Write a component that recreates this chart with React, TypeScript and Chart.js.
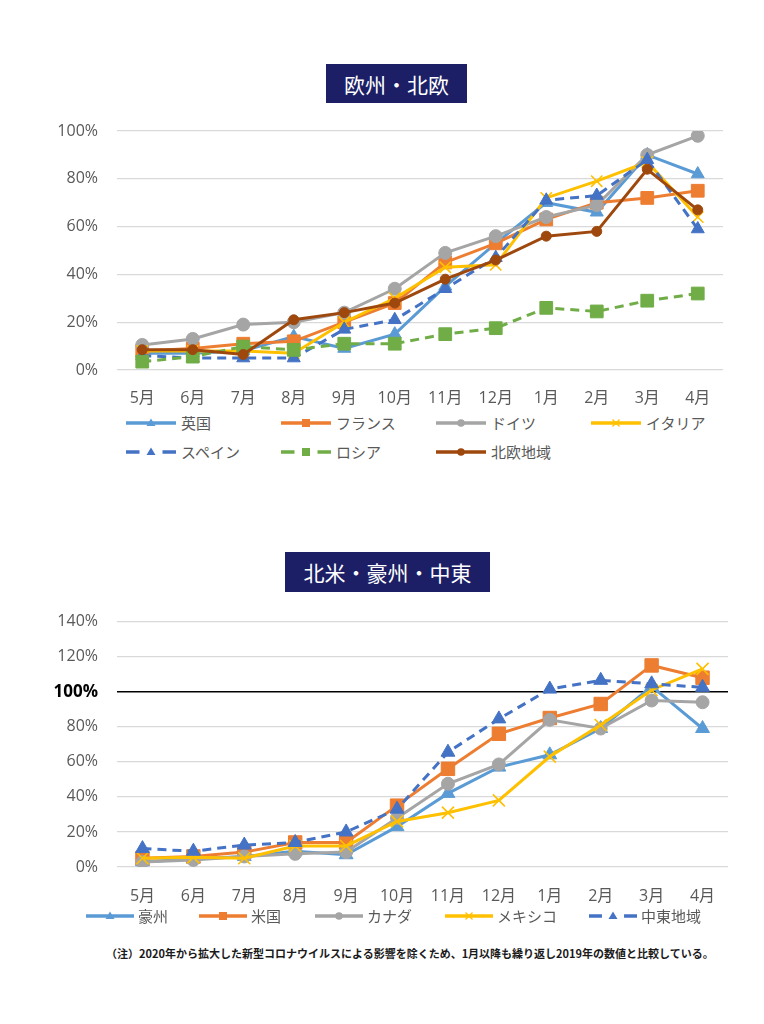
import React, { useEffect, useRef } from 'react';
import { Chart, registerables } from 'chart.js';

Chart.register(...registerables);

// ---------- data ----------
const months = ['5月', '6月', '7月', '8月', '9月', '10月', '11月', '12月', '1月', '2月', '3月', '4月'];

const euLabels = ['英国', 'フランス', 'ドイツ', 'イタリア', 'スペイン', 'ロシア', '北欧地域'];
const ukValues = [7, 7, 8, 14, 9, 15, 35, 53, 70, 66, 90, 82];
const franceValues = [8, 9, 11, 12, 20, 28, 45, 53, 63, 70, 72, 75];
const germanyValues = [10.5, 13, 19, 20, 24, 34, 49, 56, 64, 69, 90, 98];
const italyValues = [8, 8, 8, 7, 20, 30, 43, 44, 72, 79, 87, 64];
const spainValues = [6, 5, 5, 5, 17, 21, 34, 47, 71, 73, 88, 59];
const russiaValues = [3.5, 5.6, 9.8, 8.4, 11, 11, 15, 17.5, 26, 24.5, 29, 32];
const nordicValues = [8.5, 8.5, 6.5, 21, 24, 28, 38, 46, 56, 58, 84, 67];

const naLabels = ['豪州', '米国', 'カナダ', 'メキシコ', '中東地域'];
const australiaValues = [3, 4.5, 6, 9, 7, 23, 42, 57, 64, 79, 103, 79];
const usValues = [5, 6, 8.5, 14, 14, 35, 56, 76, 85, 93, 115, 108];
const canadaValues = [2.8, 4, 6, 7.5, 8.5, 28, 47.5, 58.5, 84, 79, 95, 94];
const mexicoValues = [5, 5.5, 5, 12, 12, 26, 31, 38, 63, 81, 101, 113];
const middleEastValues = [10.5, 9, 12.5, 14, 20, 33, 65.5, 84.5, 101.5, 106.5, 104.5, 102.5];

const euTicks = [0, 20, 40, 60, 80, 100];
const naTicks = [0, 20, 40, 60, 80, 100, 120, 140];

const euTitle = '欧州・北欧';
const naTitle = '北米・豪州・中東';
const footnote = '（注）2020年から拡大した新型コロナウイルスによる影響を除くため、1月以降も繰り返し2019年の数値と比較している。';

// ---------- styles ----------
type Style = { color: string; dashed: boolean; shape: string; radius: number };
const BLUE = '#5B9BD5';
const ORANGE = '#ED7D31';
const GREY = '#A5A5A5';
const YELLOW = '#FFC000';
const DBLUE = '#4472C4';
const GREEN = '#70AD47';
const BROWN = '#9E480E';

const euStyles: Style[] = [
  { color: BLUE, dashed: false, shape: 'triangle', radius: 7.5 },
  { color: ORANGE, dashed: false, shape: 'rect', radius: 9 },
  { color: GREY, dashed: false, shape: 'circle', radius: 6.5 },
  { color: YELLOW, dashed: false, shape: 'crossRot', radius: 8 },
  { color: DBLUE, dashed: true, shape: 'triangle', radius: 7.5 },
  { color: GREEN, dashed: true, shape: 'rect', radius: 9 },
  { color: BROWN, dashed: false, shape: 'circle', radius: 5 },
];
const naStyles: Style[] = [
  { color: BLUE, dashed: false, shape: 'triangle', radius: 8 },
  { color: ORANGE, dashed: false, shape: 'rect', radius: 9.5 },
  { color: GREY, dashed: false, shape: 'circle', radius: 6.5 },
  { color: YELLOW, dashed: false, shape: 'crossRot', radius: 8.5 },
  { color: DBLUE, dashed: true, shape: 'triangle', radius: 8 },
];

const FONT = '"Open Sans", "Noto Sans CJK JP", sans-serif';
const JP = '"Noto Sans CJK JP", "Open Sans", sans-serif';
const TICK_COLOR = '#595959';

function buildDatasets(labels: string[], values: number[][], styles: Style[]) {
  const n = labels.length;
  return labels.map((label, i) => {
    const s = styles[i];
    return {
      label,
      data: values[i],
      borderColor: s.color,
      backgroundColor: s.color,
      borderWidth: 3,
      borderDash: s.dashed ? [9, 6] : [],
      tension: 0,
      pointStyle: s.shape,
      pointRadius: s.radius,
      pointBackgroundColor: s.color,
      pointBorderColor: s.color,
      pointBorderWidth: s.shape === 'crossRot' ? 1.6 : 1,
      order: n - i,
    };
  });
}

function makeConfig(
  datasets: any[],
  ticks: number[],
  padTop: number,
  padRight: number,
  xHeight: number,
  xPad: number,
  highlight100: boolean
): any {
  return {
    type: 'line',
    data: { labels: months, datasets },
    options: {
      animation: false,
      responsive: false,
      maintainAspectRatio: false,
      layout: { padding: { top: padTop, right: padRight, left: 0, bottom: 0 } },
      plugins: { legend: { display: false }, tooltip: { enabled: false } },
      scales: {
        x: {
          type: 'category',
          offset: true,
          grid: { display: false },
          border: { display: false },
          ticks: {
            padding: xPad,
            color: TICK_COLOR,
            font: { family: FONT, size: 16 },
            maxRotation: 0,
            autoSkip: false,
          },
          afterFit: (s: any) => {
            s.height = xHeight;
          },
        },
        y: {
          min: ticks[0],
          max: ticks[ticks.length - 1],
          afterBuildTicks: (s: any) => {
            s.ticks = ticks.map((v) => ({ value: v }));
          },
          border: { display: false },
          grid: {
            drawTicks: false,
            color: (ctx: any) =>
              highlight100 && ctx.tick && ctx.tick.value === 100 ? '#000000' : '#D9D9D9',
            lineWidth: (ctx: any) => (highlight100 && ctx.tick && ctx.tick.value === 100 ? 1.6 : 1.2),
          },
          ticks: {
            padding: 19,
            callback: (v: any) => v + '%',
            color: (ctx: any) =>
              highlight100 && ctx.tick && ctx.tick.value === 100 ? '#000000' : TICK_COLOR,
            font: (ctx: any) =>
              highlight100 && ctx.tick && ctx.tick.value === 100
                ? { family: FONT, size: 17, weight: 'bold' }
                : { family: FONT, size: 16 },
          },
          afterFit: (s: any) => {
            s.width = 117;
          },
        },
      },
    },
  };
}

function LineChart({ config, top, height }: { config: any; top: number; height: number }) {
  const ref = useRef<HTMLCanvasElement | null>(null);
  useEffect(() => {
    if (!ref.current) return;
    const chart = new Chart(ref.current, config);
    return () => chart.destroy();
  }, [config]);
  return (
    <canvas
      ref={ref}
      width={764}
      height={height}
      style={{ position: 'absolute', left: 0, top, width: 764, height }}
    />
  );
}

function Marker({ shape, color, cx, cy }: { shape: string; color: string; cx: number; cy: number }) {
  if (shape === 'triangle') {
    return <polygon points={`${cx},${cy - 4.5} ${cx + 4.5},${cy + 3} ${cx - 4.5},${cy + 3}`} fill={color} />;
  }
  if (shape === 'rect') {
    return <rect x={cx - 4} y={cy - 4} width={8} height={8} fill={color} />;
  }
  if (shape === 'circle') {
    return <circle cx={cx} cy={cy} r={3.8} fill={color} />;
  }
  return (
    <g stroke={color} strokeWidth={1.3}>
      <line x1={cx - 3.5} y1={cy - 3.5} x2={cx + 3.5} y2={cy + 3.5} />
      <line x1={cx - 3.5} y1={cy + 3.5} x2={cx + 3.5} y2={cy - 3.5} />
    </g>
  );
}

function LegendItem({
  label,
  style,
  x,
  y,
  lineW,
  textGap,
}: {
  label: string;
  style: Style;
  x: number;
  y: number;
  lineW: number;
  textGap: number;
}) {
  const h = 14;
  const c = lineW / 2;
  return (
    <div style={{ position: 'absolute', left: x, top: y - h / 2, height: h }}>
      <svg width={lineW} height={h} style={{ position: 'absolute', left: 0, top: 0 }}>
        {style.dashed ? (
          <g stroke={style.color} strokeWidth={3.5}>
            <line x1={0} y1={h / 2} x2={lineW * 0.27} y2={h / 2} />
            <line x1={lineW * 0.73} y1={h / 2} x2={lineW} y2={h / 2} />
          </g>
        ) : (
          <line x1={0} y1={h / 2} x2={lineW} y2={h / 2} stroke={style.color} strokeWidth={3.5} />
        )}
        <Marker shape={style.shape} color={style.color} cx={c} cy={h / 2} />
      </svg>
      <div
        style={{
          position: 'absolute',
          left: lineW + textGap,
          top: h / 2 - 11,
          height: 22,
          lineHeight: '22px',
          fontFamily: JP,
          fontSize: 15,
          color: TICK_COLOR,
          whiteSpace: 'nowrap',
        }}
      >
        {label}
      </div>
    </div>
  );
}

function TitleBox({ text, left, top, width, height }: { text: string; left: number; top: number; width: number; height: number }) {
  return (
    <div
      style={{
        position: 'absolute',
        left,
        top,
        width,
        height,
        background: '#1C1F66',
        color: '#FFFFFF',
        fontFamily: JP,
        fontSize: 21,
        fontWeight: 400,
        display: 'flex',
        alignItems: 'center',
        justifyContent: 'center',
        whiteSpace: 'nowrap',
        zIndex: 2,
      }}
    >
      {text}
    </div>
  );
}

const euConfig = makeConfig(
  buildDatasets(euLabels, [ukValues, franceValues, germanyValues, italyValues, spainValues, russiaValues, nordicValues], euStyles),
  euTicks,
  31,
  41,
  40,
  11,
  false
);

const naConfig = makeConfig(
  buildDatasets(naLabels, [australiaValues, usValues, canadaValues, mexicoValues, middleEastValues], naStyles),
  naTicks,
  28,
  36,
  43,
  12,
  true
);

const euLegendPos = [
  [126, 423],
  [281, 423],
  [436, 423],
  [591, 423],
  [126, 452],
  [281, 452],
  [436, 452],
];
const naLegendPos = [
  [86, 916],
  [199, 916],
  [315, 916],
  [445, 916],
  [589, 916],
];

export default function App() {
  return (
    <div
      style={{
        position: 'absolute',
        left: 0,
        top: 0,
        width: 764,
        height: 1024,
        background: '#FFFFFF',
        overflow: 'hidden',
      }}
    >
      <LineChart config={euConfig} top={100} height={310} />
      <LineChart config={naConfig} top={593} height={317} />
      <TitleBox text={euTitle} left={326} top={64} width={141} height={39} />
      <TitleBox text={naTitle} left={285} top={552} width={205} height={40} />
      {euLabels.map((l, i) => (
        <LegendItem key={l} label={l} style={euStyles[i]} x={euLegendPos[i][0]} y={euLegendPos[i][1]} lineW={50} textGap={5} />
      ))}
      {naLabels.map((l, i) => (
        <LegendItem key={l} label={l} style={naStyles[i]} x={naLegendPos[i][0]} y={naLegendPos[i][1]} lineW={48} textGap={4} />
      ))}
      <div
        style={{
          position: 'absolute',
          left: 106,
          top: 945,
          fontFamily: JP,
          fontSize: 11,
          fontWeight: 700,
          color: '#1A1A1A',
          whiteSpace: 'nowrap',
          lineHeight: '16px',
        }}
      >
        {footnote}
      </div>
    </div>
  );
}
